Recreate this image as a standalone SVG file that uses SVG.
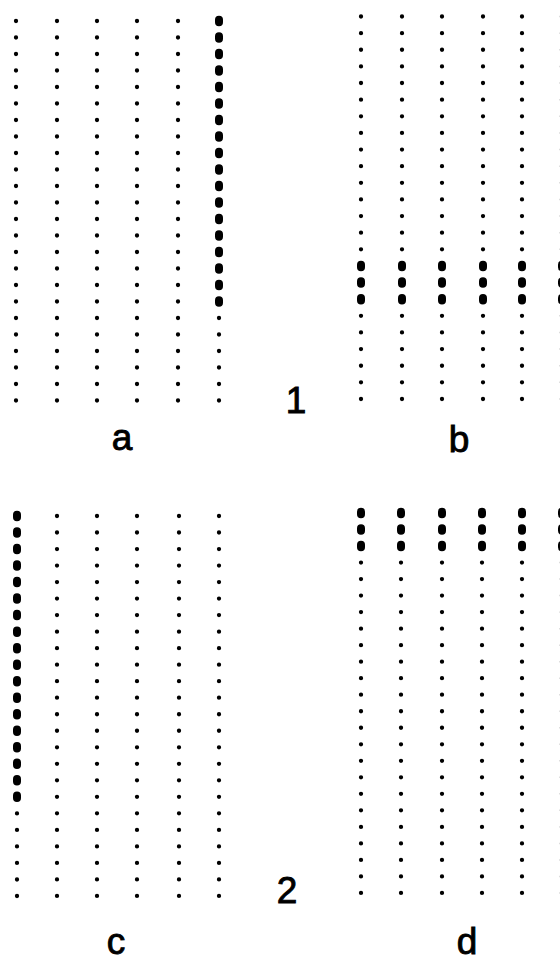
<svg xmlns="http://www.w3.org/2000/svg" width="560" height="961" viewBox="0 0 560 961">
<style>
.s{stroke:#000;stroke-width:4.3;stroke-linecap:round;fill:none}
.L{stroke:#000;stroke-width:8;stroke-linecap:round;fill:none}
.t{font-family:"Liberation Sans",Arial,sans-serif;font-size:37px;fill:#000;stroke:#000;stroke-width:0.9;text-anchor:middle}
</style>
<rect width="560" height="961" fill="#fff"/>
<g id="panel-a">
<g class="s" stroke-dasharray="0 16.5">
<line x1="16" y1="21" x2="16" y2="400.6"/>
<line x1="57" y1="21" x2="57" y2="400.6"/>
<line x1="97" y1="21" x2="97" y2="400.6"/>
<line x1="137" y1="21" x2="137" y2="400.6"/>
<line x1="178" y1="21" x2="178" y2="400.6"/>
<line x1="219" y1="318" x2="219" y2="400.6"/>
</g>
<line class="L" stroke-dasharray="2.5 14" x1="219" y1="19.75" x2="219" y2="302.8"/>
</g>
<g id="panel-b">
<g class="s" stroke-dasharray="0 16.63">
<line x1="361" y1="16.5" x2="361" y2="399.1"/>
<line x1="402" y1="16.5" x2="402" y2="399.1"/>
<line x1="442" y1="16.5" x2="442" y2="399.1"/>
<line x1="483" y1="16.5" x2="483" y2="399.1"/>
<line x1="522" y1="16.5" x2="522" y2="399.1"/>
<line x1="562" y1="16.5" x2="562" y2="399.1"/>
</g>
<g class="L" stroke-dasharray="2.5 14.13">
<line x1="361" y1="264.7" x2="361" y2="300.5"/>
<line x1="402" y1="264.7" x2="402" y2="300.5"/>
<line x1="442" y1="264.7" x2="442" y2="300.5"/>
<line x1="483" y1="264.7" x2="483" y2="300.5"/>
<line x1="522" y1="264.7" x2="522" y2="300.5"/>
<line x1="562" y1="264.7" x2="562" y2="300.5"/>
</g>
</g>
<g id="panel-c">
<g class="s" stroke-dasharray="0 16.52">
<line x1="17" y1="813.4" x2="17" y2="896.1"/>
<line x1="57" y1="516" x2="57" y2="896.1"/>
<line x1="97" y1="516" x2="97" y2="896.1"/>
<line x1="137" y1="516" x2="137" y2="896.1"/>
<line x1="179" y1="516" x2="179" y2="896.1"/>
<line x1="219" y1="516" x2="219" y2="896.1"/>
</g>
<line class="L" stroke-dasharray="2.5 14.02" x1="17" y1="514.75" x2="17" y2="798.1"/>
</g>
<g id="panel-d">
<g class="s" stroke-dasharray="0 16.52">
<line x1="361" y1="562.56" x2="361" y2="893.1"/>
<line x1="401" y1="562.56" x2="401" y2="893.1"/>
<line x1="442" y1="562.56" x2="442" y2="893.1"/>
<line x1="482" y1="562.56" x2="482" y2="893.1"/>
<line x1="522" y1="562.56" x2="522" y2="893.1"/>
<line x1="562" y1="562.56" x2="562" y2="893.1"/>
</g>
<g class="L" stroke-dasharray="2.5 14.02">
<line x1="361" y1="511.75" x2="361" y2="547.3"/>
<line x1="401" y1="511.75" x2="401" y2="547.3"/>
<line x1="442" y1="511.75" x2="442" y2="547.3"/>
<line x1="482" y1="511.75" x2="482" y2="547.3"/>
<line x1="522" y1="511.75" x2="522" y2="547.3"/>
<line x1="562" y1="511.75" x2="562" y2="547.3"/>
</g>
</g>
<g id="labels">
<text class="t" x="296" y="413">1</text>
<text class="t" x="122" y="450">a</text>
<text class="t" x="459" y="452">b</text>
<text class="t" x="287" y="903">2</text>
<text class="t" x="116" y="954">c</text>
<text class="t" x="467" y="954">d</text>
</g>
</svg>
